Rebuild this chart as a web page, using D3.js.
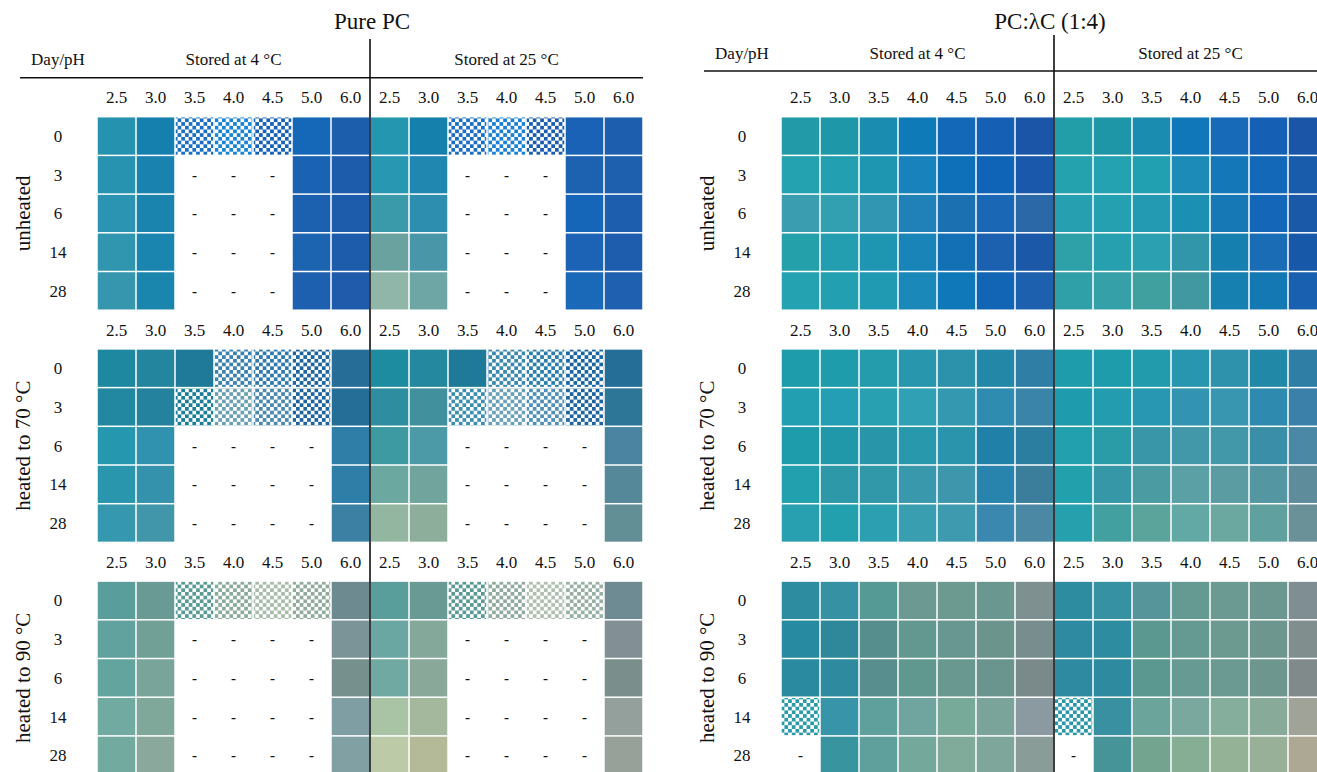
<!DOCTYPE html>
<html>
<head>
<meta charset="utf-8">
<script src="https://cdn.jsdelivr.net/npm/d3@7/dist/d3.min.js"></script>
<style>
html,body{margin:0;padding:0;background:#fff;overflow:hidden;}
text{font-family:"Liberation Serif","Times New Roman",serif;fill:#111;}
</style>
</head>
<body>
<svg id="chart" width="1317" height="772"></svg>
<script>
// ---------- data ----------
const days = ["0", "3", "6", "14", "28"];
const phValues = ["2.5", "3.0", "3.5", "4.0", "4.5", "5.0", "6.0"];
const storageLabels = ["Stored at 4 °C", "Stored at 25 °C"];
const treatments = ["unheated", "heated to 70 °C", "heated to 90 °C"];
const panelTitles = ["Pure PC", "PC:λC (1:4)"];
// cell codes: "#hex" = solid colour, "x#hex" = checkered (colour/white), "-" = no sample
// each row: 7 pH values stored at 4 °C, then 7 pH values stored at 25 °C

const pcUnheated = [
  ["#2592b0","#1580ae","x#1a6fc4","x#1a84d4","x#1560b8","#1568b8","#1c5eac", "#2596b0","#1580ab","x#1a6cc4","x#1a80d4","x#1a5cb2","#1a62b5","#1e5eae"],
  ["#2893b0","#1a82ae","-","-","-","#1a62b2","#1c5cab", "#2898b2","#2088b0","-","-","-","#1c62b0","#1e5fae"],
  ["#2a94b2","#1a84ae","-","-","-","#1c60b0","#1c5cab", "#3a9aaa","#2e8eb0","-","-","-","#1565b8","#1e5eae"],
  ["#3096b0","#1a86b0","-","-","-","#1c64b0","#1d5cab", "#6aa2a0","#4896a8","-","-","-","#1c62b5","#1e5cae"],
  ["#3596ae","#1a86ae","-","-","-","#1e60b0","#1f5aab", "#8fb6a8","#6ea6a6","-","-","-","#1a68b8","#2060b0"]
];
const pcHeated70 = [
  ["#1e88a0","#24869e","#1e7a98","x#3a80b0","x#2e7aae","x#1c64a0","#266e98", "#1e8ca0","#24889e","#1e7a98","x#3a88b0","x#2a7eae","x#1a66a5","#246e98"],
  ["#2288a2","#24829e","x#1a7e98","x#6aa0b0","x#4a88b0","x#1e64a0","#256e98", "#2e8ea0","#40909e","x#3a8eb0","x#6aa0b8","x#5090b8","x#1e64a0","#2e7698"],
  ["#2598b0","#3092ae","-","-","-","-","#2e7ea8", "#3c9aa0","#4c9aa8","-","-","-","-","#4a84a0"],
  ["#2996ae","#3592ac","-","-","-","-","#2e7ea8", "#6aa8a0","#70a49c","-","-","-","-","#558898"],
  ["#3598ae","#4296aa","-","-","-","-","#3c80a4", "#92b6a0","#8cae9a","-","-","-","-","#628e96"]
];
const pcHeated90 = [
  ["#5a9e9c","#6a9a94","x#5a9a94","x#8aaa9c","x#a8bca8","x#90aa9c","#6c8a90", "#5a9e9c","#6a9a94","x#5a9a94","x#90aaa0","x#b0c0b0","x#98b0a4","#6e8a92"],
  ["#62a29e","#70a096","-","-","-","-","#7a9498", "#6aa6a2","#84a89a","-","-","-","-","#828f94"],
  ["#64a49e","#78a49a","-","-","-","-","#76908e", "#70a8a2","#8aa89a","-","-","-","-","#7a8e8c"],
  ["#70aaa0","#80a89a","-","-","-","-","#7e9ea4", "#a8c4a4","#a4b89e","-","-","-","-","#94a09c"],
  ["#72aaa0","#8aa89c","-","-","-","-","#80a0a4", "#bccaa8","#b4ba98","-","-","-","-","#98a09a"]
];
const mixUnheated = [
  ["#229aa8","#1e98a8","#1a8caf","#0e7ab8","#1468b8","#1560b4","#1a55a8", "#229ea8","#1e96a8","#1a8cb0","#1078b8","#166ab8","#1560b5","#1a55a8"],
  ["#24a2b0","#22a0b2","#1e96b2","#1882bc","#0e70b8","#1064b8","#1a58ac", "#24a2ae","#24a2b2","#20a0b0","#1c8cb6","#1478b8","#1468b8","#1a5cac"],
  ["#3a9eb0","#32a0b0","#3096b2","#2080b8","#1a70b0","#1a68b5","#2a68a8", "#26a0b0","#24a0b0","#249ab2","#1c90b2","#1678b5","#1466b8","#1a58a8"],
  ["#24a0aa","#229eb0","#1e96b2","#1884b8","#1370b5","#1c60b0","#1c58a8", "#2ea0a8","#26a0ae","#2aa0b0","#3296aa","#1580b0","#1a6cb5","#1858a8"],
  ["#24a2b2","#22a0b2","#209ab2","#1a88b8","#0e78b8","#1264b4","#1c60ae", "#30a0a8","#36a0a8","#40a0a0","#4298a0","#1680b0","#1478b2","#1a60b0"]
];
const mixHeated70 = [
  ["#1e9cac","#1e9cac","#249cac","#2896ac","#2c92ac","#2388a8","#2e7ea6", "#1e9cac","#1e9cac","#229cac","#2896ae","#2e92ac","#2288a8","#2e7ea6"],
  ["#22a0b2","#249eb2","#28a0b2","#30a0b5","#3498b0","#2e8cb0","#3a84aa", "#1e9cae","#229cae","#2898b2","#3294b0","#3896b0","#2e8aae","#3a80a8"],
  ["#1e9cac","#2098aa","#2896a8","#2898ac","#2a94ac","#2080a8","#2c7ea0", "#22a0ae","#2a9ca8","#3896a8","#4298a8","#4298a8","#3a8ea8","#4a88a6"],
  ["#22a0ae","#2c98a8","#3098a8","#3a98ac","#3e96ac","#2884ac","#3a7e9c", "#22a0ac","#3698a6","#4a9ca2","#5aa0a4","#5a9ca2","#5496a2","#5e8c9a"],
  ["#28a0b0","#22a0ae","#2ca0b0","#389eb0","#3e9aae","#3a88b0","#4a88a4", "#26a0ac","#42a0a0","#5aa49c","#62a8a4","#6aa8a0","#60a09e","#6a9098"]
];
const mixHeated90 = [
  ["#2e8ca0","#3692a2","#569a96","#6c9a92","#6c9a90","#6a9890","#7e9090", "#2e8ca0","#3692a2","#56969a","#649a92","#6a9a92","#6c9690","#7e8e92"],
  ["#288aa0","#2e889a","#568e8e","#629890","#689690","#6a948c","#788e8e", "#2e8aa0","#2e8ca0","#5a9890","#649a92","#6c9a90","#6c968e","#808e8e"],
  ["#2a8aa0","#2e8a9e","#588e8e","#609890","#689890","#6a948e","#7a8a8a", "#2e8aa0","#2e8a9e","#5a9890","#669a92","#6a9a92","#6c968e","#808a8a"],
  ["x#2a9aa8","#3894a8","#60a09c","#70a49e","#78aa9a","#7aa49a","#8a9aa0", "x#2a96a8","#3890a0","#6aa49a","#7aa89e","#86ae9c","#88aa98","#a0a498"],
  ["-","#38949e","#60a09c","#74a89a","#80aa9a","#7ea69a","#8a9c98", "-","#469498","#72a490","#86ae94","#94b296","#98b098","#aca894"]
];

const panels = [
  {title: panelTitles[0], sections: [pcUnheated, pcHeated70, pcHeated90], x0: 97, titleX: 372, ruleY: 77.7, headY: 65, divTop: 39, ruleX0: 20, ruleX1: 643},
  {title: panelTitles[1], sections: [mixUnheated, mixHeated70, mixHeated90], x0: 781, titleX: 1050, ruleY: 71, headY: 59, divTop: 35, ruleX0: 704, ruleX1: 1317}
];

// ---------- drawing ----------
const svg = d3.select("#chart");
const defs = svg.append("defs");
const W = 1317, H = 772;
const colW = 39, rowH = 38.7, yTop = 78;
const colKeys = d3.range(14);
const rowKeys = d3.range(18); // 3 sections x (1 pH header row + 5 day rows)
const y = d3.scaleBand().domain(rowKeys).range([yTop, yTop + 18 * rowH]).padding(0);
const CHK = 3.7;
let patId = 0;
function checkerPattern(color) {
  const id = "chk" + (patId++);
  const p = defs.append("pattern").attr("id", id).attr("patternUnits", "userSpaceOnUse")
    .attr("width", CHK * 2).attr("height", CHK * 2);
  p.append("rect").attr("width", CHK * 2).attr("height", CHK * 2).attr("fill", "#fff");
  p.append("rect").attr("width", CHK).attr("height", CHK).attr("fill", color);
  p.append("rect").attr("x", CHK).attr("y", CHK).attr("width", CHK).attr("height", CHK).attr("fill", color);
  return "url(#" + id + ")";
}

panels.forEach(panel => {
  const x = d3.scaleBand().domain(colKeys).range([panel.x0, panel.x0 + 14 * colW]).padding(0);
  const divX = panel.x0 + 7 * colW;
  const g = svg.append("g");

  // title
  g.append("text").attr("x", panel.titleX).attr("y", 29).attr("text-anchor", "middle")
    .attr("font-size", 23).text(panel.title);
  // header
  g.append("text").attr("x", panel.x0 - 39).attr("y", panel.headY).attr("text-anchor", "middle")
    .attr("font-size", 17).text("Day/pH");
  storageLabels.forEach((s, i) => {
    g.append("text").attr("x", panel.x0 + (i * 7 + 3.5) * colW).attr("y", panel.headY)
      .attr("text-anchor", "middle").attr("font-size", 17).text(s);
  });
  g.append("line").attr("x1", panel.ruleX0).attr("x2", panel.ruleX1)
    .attr("y1", panel.ruleY).attr("y2", panel.ruleY).attr("stroke", "#111").attr("stroke-width", 1.6);

  panel.sections.forEach((rows, si) => {
    const headRow = si * 6;
    // pH labels
    colKeys.forEach(c => {
      g.append("text").attr("x", x(c) + x.bandwidth() / 2).attr("y", y(headRow) + rowH / 2 + 6)
        .attr("text-anchor", "middle").attr("font-size", 17).text(phValues[c % 7]);
    });
    // treatment label
    const secTop = y(headRow + 1), secBot = y(headRow + 5) + rowH;
    const cy = (secTop + secBot) / 2;
    g.append("text").attr("transform", `translate(${panel.x0 - 67},${cy}) rotate(-90)`)
      .attr("text-anchor", "middle").attr("font-size", 21).text(treatments[si]);
    rows.forEach((row, ri) => {
      const yy = y(headRow + 1 + ri);
      g.append("text").attr("x", panel.x0 - 39).attr("y", yy + rowH / 2 + 6)
        .attr("text-anchor", "middle").attr("font-size", 17).text(days[ri]);
      row.forEach((code, ci) => {
        const xx = x(ci);
        if (code === "-") {
          g.append("text").attr("x", xx + colW / 2).attr("y", yy + rowH / 2 + 5)
            .attr("text-anchor", "middle").attr("font-size", 15).attr("font-weight", "bold").text("-");
        } else {
          const fill = code[0] === "x" ? checkerPattern(code.slice(1)) : code;
          g.append("rect").attr("x", xx + 0.75).attr("y", yy + 0.75)
            .attr("width", x.bandwidth() - 1.5).attr("height", rowH - 1.5).attr("fill", fill);
        }
      });
    });
  });

  // divider
  g.append("line").attr("x1", divX).attr("x2", divX).attr("y1", panel.divTop).attr("y2", H)
    .attr("stroke", "#111").attr("stroke-width", 1.6);
});
</script>
</body>
</html>
